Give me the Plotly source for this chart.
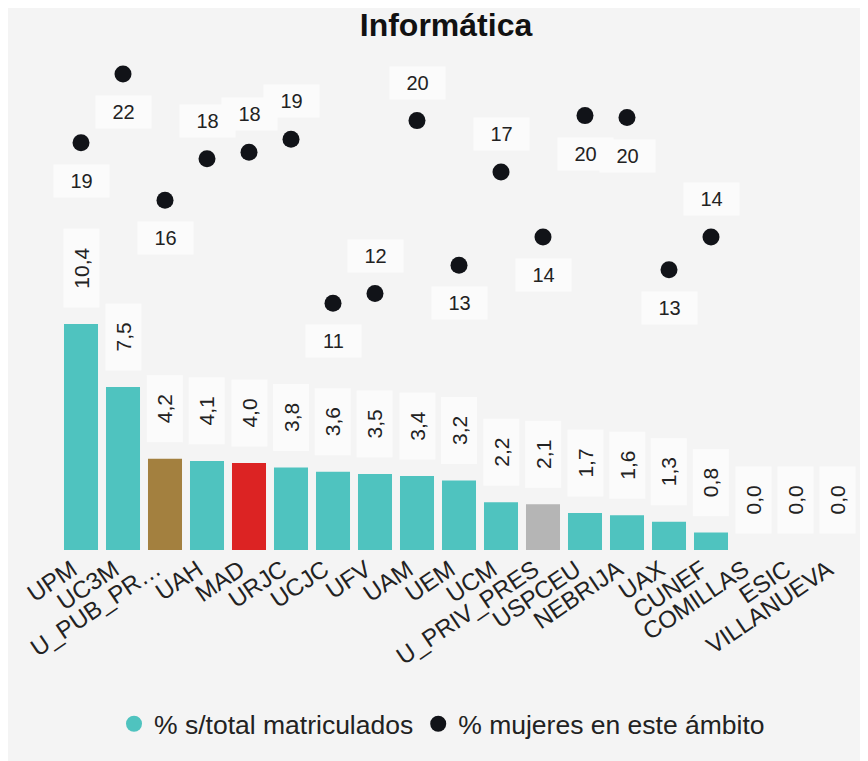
import plotly.graph_objects as go

# ---- data ----
categories = ["UPM", "UC3M", "U_PUB_PR…", "UAH", "MAD", "URJC", "UCJC", "UFV", "UAM", "UEM",
              "UCM", "U_PRIV_PRES", "USPCEU", "NEBRIJA", "UAX", "CUNEF", "COMILLAS", "ESIC", "VILLANUEVA"]
pct_matriculados = [10.4, 7.5, 4.2, 4.1, 4.0, 3.8, 3.6, 3.5, 3.4, 3.2,
                    2.2, 2.1, 1.7, 1.6, 1.3, 0.8, 0.0, 0.0, 0.0]
pct_mujeres = [18.74, 21.9, 16.1, 18.0, 18.3, 18.9, 11.35, 11.8, 19.76, 13.1,
               17.4, 14.4, 19.99, 19.9, 12.9, 14.4, None, None, None]

# ---- styles ----
TEAL = "#4fc3bf"
bar_colors = [TEAL, TEAL, "#a3803f", TEAL, "#dc2323", TEAL, TEAL, TEAL, TEAL, TEAL,
              TEAL, "#b5b5b5", TEAL, TEAL, TEAL, TEAL, TEAL, TEAL, TEAL]
label_side = [-1, -1, -1, 1, 1, 1, -1, 1, 1, -1, 1, -1, -1, -1, -1, 1, 1, 1, 1]
FONT = "Liberation Sans, Arial, sans-serif"
TXT = "#222222"
BOX = "#fbfbfb"
BG = "#f4f4f4"

L, R, T, B = 52, 18, 42, 219
W, H = 868, 761
PW, PH = W - L - R, H - T - B
px_per_unit = 21.73
y_max = PH / px_per_unit

char_w = {"0": .556, "1": .556, "2": .556, "3": .556, "4": .556, "5": .556,
          "6": .556, "7": .556, "8": .556, "9": .556, ",": .278}

fig = go.Figure()
fig.add_trace(go.Bar(x=categories, y=pct_matriculados, marker=dict(color=bar_colors, line_width=0),
                     showlegend=False, name="% s/total matriculados"))
fig.add_trace(go.Scatter(x=[None], y=[None], mode="markers", name="% s/total matriculados",
                         marker=dict(color=TEAL, size=18, symbol="circle")))
fig.add_trace(go.Scatter(x=categories, y=pct_mujeres, mode="markers", name="% mujeres en este ámbito",
                         marker=dict(color="#111318", size=17, symbol="circle")))

annotations = []
for c, v in zip(categories, pct_matriculados):
    t = f"{v:.1f}".replace(".", ",")
    tw = sum(char_w.get(ch, .556) for ch in t) * 21
    annotations.append(dict(x=c, y=v, xref="x", yref="y", text=t, showarrow=False,
                            textangle=-90, yanchor="bottom", xanchor="center", yshift=16,
                            width=tw + 37, height=35, bgcolor=BOX, borderpad=0,
                            font=dict(family=FONT, size=21, color=TXT)))
for c, v, s in zip(categories, pct_mujeres, label_side):
    if v is None:
        continue
    annotations.append(dict(x=c, y=v, xref="x", yref="y", text=str(round(v)), showarrow=False,
                            yanchor="middle", xanchor="center", yshift=38 * s,
                            width=55, height=32, bgcolor=BOX, borderpad=0,
                            font=dict(family=FONT, size=20, color=TXT)))

fig.update_layout(
    width=W, height=H,
    margin=dict(l=L, r=R, t=T, b=B, autoexpand=False),
    paper_bgcolor=BG, plot_bgcolor=BG,
    font=dict(family=FONT, color=TXT),
    title=dict(text="<b>Informática</b>", x=438 / W, xref="container", xanchor="center",
               y=1 - 17 / H, yref="container", yanchor="middle",
               font=dict(family=FONT, size=32, color="#111111")),
    bargap=0.19,
    showlegend=True,
    legend=dict(orientation="h", xref="container", yref="container", x=0.5, xanchor="center",
                y=1 - 716 / H, yanchor="middle", font=dict(family=FONT, size=26.5, color=TXT),
                bgcolor="rgba(0,0,0,0)", itemwidth=30, tracegroupgap=0),
    xaxis=dict(range=[-0.5, len(categories) - 0.5], tickangle=-34, ticklabelshift=-9,
               tickfont=dict(family=FONT, size=24, color=TXT), automargin=False,
               showgrid=False, showline=False, zeroline=False, ticks=""),
    yaxis=dict(range=[0, y_max], showticklabels=False, showgrid=False, zeroline=False,
               showline=False, ticks="", automargin=False),
    annotations=annotations,
)

fig.write_html("out.html")
